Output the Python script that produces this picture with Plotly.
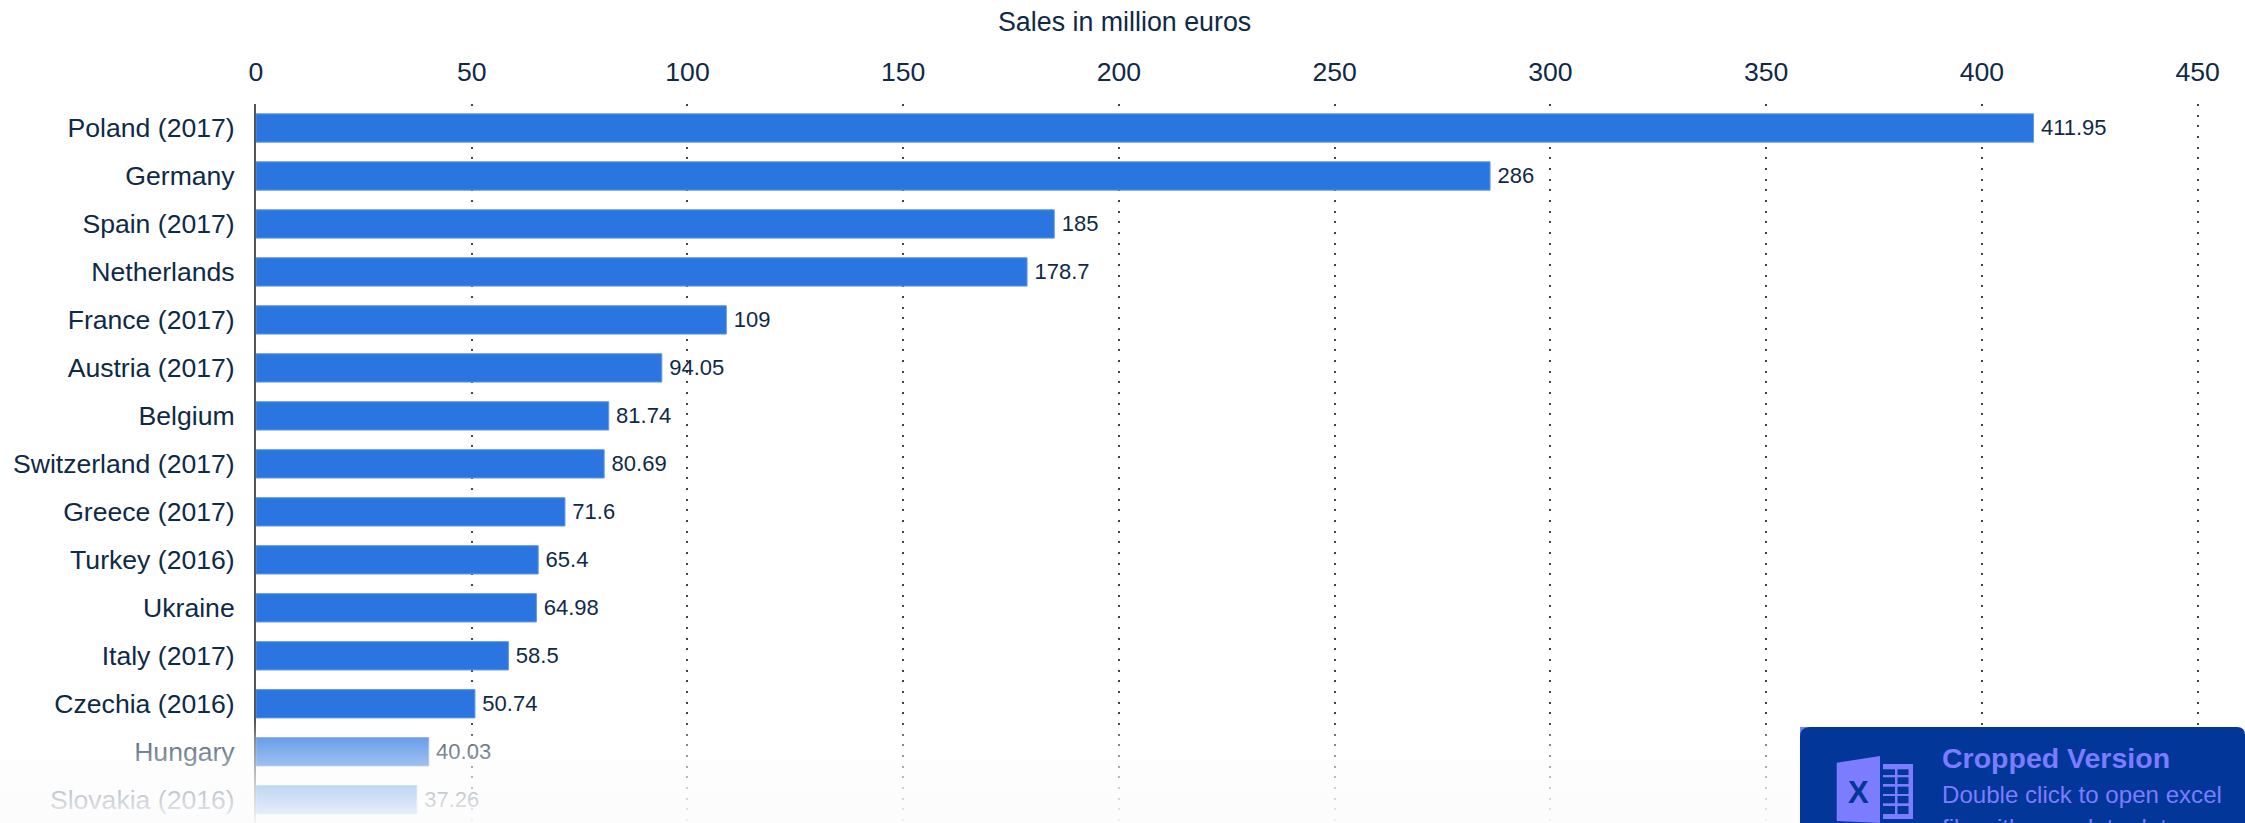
import base64
import plotly.graph_objects as go

categories = ["Poland (2017)", "Germany", "Spain (2017)", "Netherlands", "France (2017)",
              "Austria (2017)", "Belgium", "Switzerland (2017)", "Greece (2017)", "Turkey (2016)",
              "Ukraine", "Italy (2017)", "Czechia (2016)", "Hungary", "Slovakia (2016)"]
sales = [411.95, 286, 185, 178.7, 109, 94.05, 81.74, 80.69, 71.6, 65.4, 64.98, 58.5, 50.74, 40.03, 37.26]
labels = ["411.95", "286", "185", "178.7", "109", "94.05", "81.74", "80.69", "71.6", "65.4",
          "64.98", "58.5", "50.74", "40.03", "37.26"]
x_ticks = [0, 50, 100, 150, 200, 250, 300, 350, 400, 450]

W, H = 2245, 823
L, R, T, B = 256, 43, 104, 0
TEXT = "#0f2a47"
FONT = "Liberation Sans, Arial, sans-serif"


def px(x):
    return (x - L) / (W - L - R)


def py(y):
    return 1 - (y - T) / (H - T - B)


F0, F1 = 722, 823


def stop(y, alpha, col):
    return f'<stop offset="{(y - F0) / (F1 - F0):.4f}" stop-color="{col}" stop-opacity="{alpha}"/>'


svg = ('<svg xmlns="http://www.w3.org/2000/svg" width="10" height="101" preserveAspectRatio="none">'
       '<defs><linearGradient id="g" x1="0" y1="0" x2="0" y2="1">'
       + stop(722, 0, "#fff") + stop(738, 0.3, "#fff") + stop(760, 0.5, "#fff")
       + stop(760, 0.5, "#fcfcfc") + stop(766, 0.55, "#fcfcfc") + stop(786, 0.72, "#fcfcfc")
       + stop(814, 0.89, "#fcfcfc") + stop(823, 0.95, "#fcfcfc") +
       '</linearGradient></defs><rect width="10" height="101" fill="url(#g)"/></svg>')
fade = "data:image/svg+xml;base64," + base64.b64encode(svg.encode()).decode()

BADGE = "#023699"
BADGE_FG = "#7c7cff"


def xy(a, b):
    return f"{px(a):.5f},{py(b):.5f}"


def poly(points, fill):
    d = "M" + " L".join(xy(a, b) for a, b in points) + " Z"
    return dict(type="path", xref="paper", yref="paper", path=d, fillcolor=fill,
                line=dict(width=0), layer="above")


rounded = (f"M{xy(1810, 727)} L{xy(2237, 727)} Q{xy(2245, 727)} {xy(2245, 735)} L{xy(2245, 823)} "
           f"L{xy(1800, 823)} L{xy(1800, 737)} Q{xy(1800, 727)} {xy(1810, 727)} Z")

shapes = [
    poly([(1800, 727), (1812, 727), (1812, 739), (1800, 739)], BADGE_FG),
    dict(type="path", xref="paper", yref="paper", path=rounded, fillcolor=BADGE,
         line=dict(width=0), layer="above"),
    poly([(1836.7, 762.7), (1880, 756), (1880, 823), (1836.7, 821)], BADGE_FG),
    poly([(1883, 764), (1913, 764), (1913, 819), (1883, 819)], BADGE_FG),
]
for y0, y1 in [(769.3, 775), (777.3, 784), (786.7, 794), (796, 803.3), (806, 814)]:
    for x0, x1 in [(1883, 1895), (1897.5, 1908.5)]:
        shapes.append(poly([(x0, y0), (x1, y0), (x1, y1), (x0, y1)], BADGE))


def note(text, x, y, size, color, xanchor="left"):
    return dict(text=text, x=px(x), y=py(y), xref="paper", yref="paper", showarrow=False,
                xanchor=xanchor, yanchor="middle",
                font=dict(size=size, color=color, family=FONT))


annotations = [
    note("Sales in million euros", 1124, 22, 26.8, TEXT, "center"),
    note("<b>X</b>", 1858, 792, 31, BADGE, "center"),
    note("<b>Cropped Version</b>", 1940, 758, 28.5, BADGE_FG),
    note("Double click to open excel", 1940, 794, 24.1, BADGE_FG),
    note("file with complete data", 1940, 827, 24.1, BADGE_FG),
]

fig = go.Figure(go.Bar(
    x=sales, y=categories, orientation="h", width=0.59,
    marker=dict(color="#2a75df", line=dict(width=1, color="#5e97e8")),
    text=labels, texttemplate="\u2009%{text}", textposition="outside", cliponaxis=False,
    textfont=dict(size=22, color=TEXT, family=FONT),
))
fig.update_layout(
    width=W, height=H, margin=dict(l=L, r=R, t=T, b=B, pad=0),
    paper_bgcolor="white", plot_bgcolor="white", showlegend=False,
    font=dict(family=FONT, color=TEXT),
    xaxis=dict(side="top", range=[0, 451], tickvals=x_ticks, ticktext=[str(v) for v in x_ticks],
               showgrid=True, gridcolor="#444444", griddash="2px,8.67px", gridwidth=2,
               zeroline=False, showline=False, ticks="", ticklabelstandoff=17,
               tickfont=dict(size=26.6, color=TEXT, family=FONT)),
    yaxis=dict(type="category", categoryorder="array", categoryarray=categories,
               range=[14.485, -0.5], showgrid=False, zeroline=False, ticks="",
               showline=True, linecolor="#555555", linewidth=2, ticklabelstandoff=14,
               tickfont=dict(size=26.6, color=TEXT, family=FONT)),
    images=[dict(source=fade, xref="paper", yref="paper", x=px(0), y=py(F0), sizex=px(W) - px(0),
                 sizey=py(F0) - py(F1), sizing="stretch", xanchor="left", yanchor="top", layer="above")],
    shapes=shapes,
    annotations=annotations,
)
fig.write_html("out.html", config={"displayModeBar": False},
               post_script="document.body.style.margin='0';document.body.style.overflow='hidden';")
